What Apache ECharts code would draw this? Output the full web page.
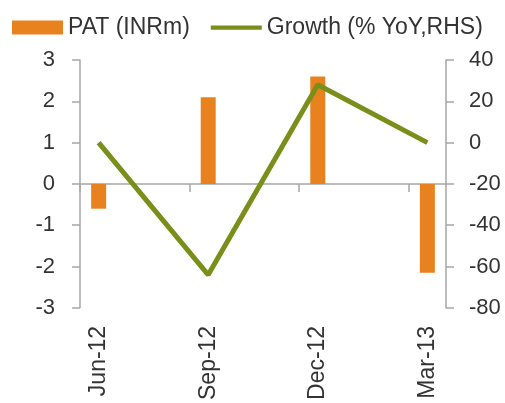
<!DOCTYPE html>
<html>
<head>
<meta charset="utf-8">
<script src="https://cdn.jsdelivr.net/npm/echarts@6/dist/echarts.min.js"></script>
<style>
html, body { margin: 0; padding: 0; background: #fff; }
#container { width: 505px; height: 403px; }
</style>
</head>
<body>
<div id="container"></div>
<script>
var dom = document.getElementById("container");
var myChart = echarts.init(dom);

var categories = ["Jun-12", "Sep-12", "Dec-12", "Mar-13"];
var pat = [-0.6, 2.1, 2.6, -2.15];      // PAT (INRm), left axis
var growth = [0, -64, 28, 0];            // Growth (% YoY), right axis

var font = "Liberation Sans";
var axisGray = "#a6a6a6";
var textColor = "#333";

// categories sit on a value axis so the plot can run a bit past the first/last point
var xMin = -0.17, xMax = 3.17;
var catIndex = categories.map(function (c, i) { return i; });
var boundaries = [-0.17, 0.83, 1.83, 2.83];

option = {
  animation: false,
  textStyle: { fontFamily: font },
  legend: {
    left: 7,
    top: 11,
    itemWidth: 51,
    itemHeight: 14,
    itemGap: 21,
    textStyle: { fontSize: 23, color: textColor, fontFamily: font },
    data: [
      { name: "PAT (INRm)", icon: "rect" },
      { name: "Growth (% YoY,RHS)", icon: "path://M0,0L54,0L54,4.5L0,4.5Z" }
    ]
  },
  grid: { left: 80, right: 59, top: 60, bottom: 93, containLabel: false },
  xAxis: [
    {
      type: "value",
      min: xMin,
      max: xMax,
      axisLine: { onZero: true, lineStyle: { color: axisGray, width: 1.5 } },
      axisTick: { show: true, customValues: boundaries, length: 8, lineStyle: { color: axisGray, width: 1.5 } },
      axisLabel: { show: false },
      splitLine: { show: false }
    },
    {
      type: "value",
      position: "bottom",
      min: xMin,
      max: xMax,
      axisLine: { show: false, onZero: false },
      axisTick: { show: false },
      splitLine: { show: false },
      axisLabel: {
        customValues: catIndex,
        formatter: function (v) { return categories[Math.round(v)]; },
        rotate: 90,
        margin: 18,
        fontSize: 23,
        color: textColor,
        fontFamily: font
      }
    }
  ],
  yAxis: [
    {
      type: "value",
      position: "left",
      min: -3,
      max: 3,
      interval: 1,
      axisLine: { show: true, onZero: false, lineStyle: { color: axisGray, width: 1.5 } },
      axisTick: { show: true, length: 8, lineStyle: { color: axisGray, width: 1.5 } },
      axisLabel: { margin: 25, fontSize: 22, color: textColor, fontFamily: font },
      splitLine: { show: false }
    },
    {
      type: "value",
      position: "right",
      min: -80,
      max: 40,
      interval: 20,
      axisLine: { show: true, onZero: false, lineStyle: { color: axisGray, width: 1.5 } },
      axisTick: { show: true, length: 8, lineStyle: { color: axisGray, width: 1.5 } },
      axisLabel: { margin: 23, fontSize: 22, color: textColor, fontFamily: font },
      splitLine: { show: false }
    }
  ],
  series: [
    {
      name: "PAT (INRm)",
      type: "bar",
      xAxisIndex: 0,
      yAxisIndex: 0,
      barWidth: 15,
      itemStyle: { color: "#e8821e" },
      data: pat.map(function (v, i) { return [i, v]; })
    },
    {
      name: "Growth (% YoY,RHS)",
      type: "line",
      xAxisIndex: 0,
      yAxisIndex: 1,
      symbol: "none",
      z: 3,
      lineStyle: { color: "#7a8f1a", width: 5 },
      itemStyle: { color: "#7a8f1a" },
      data: growth.map(function (v, i) { return [i, v]; })
    }
  ]
};
if (option && typeof option === "object") {
  myChart.setOption(option, true);
}
</script>
</body>
</html>
